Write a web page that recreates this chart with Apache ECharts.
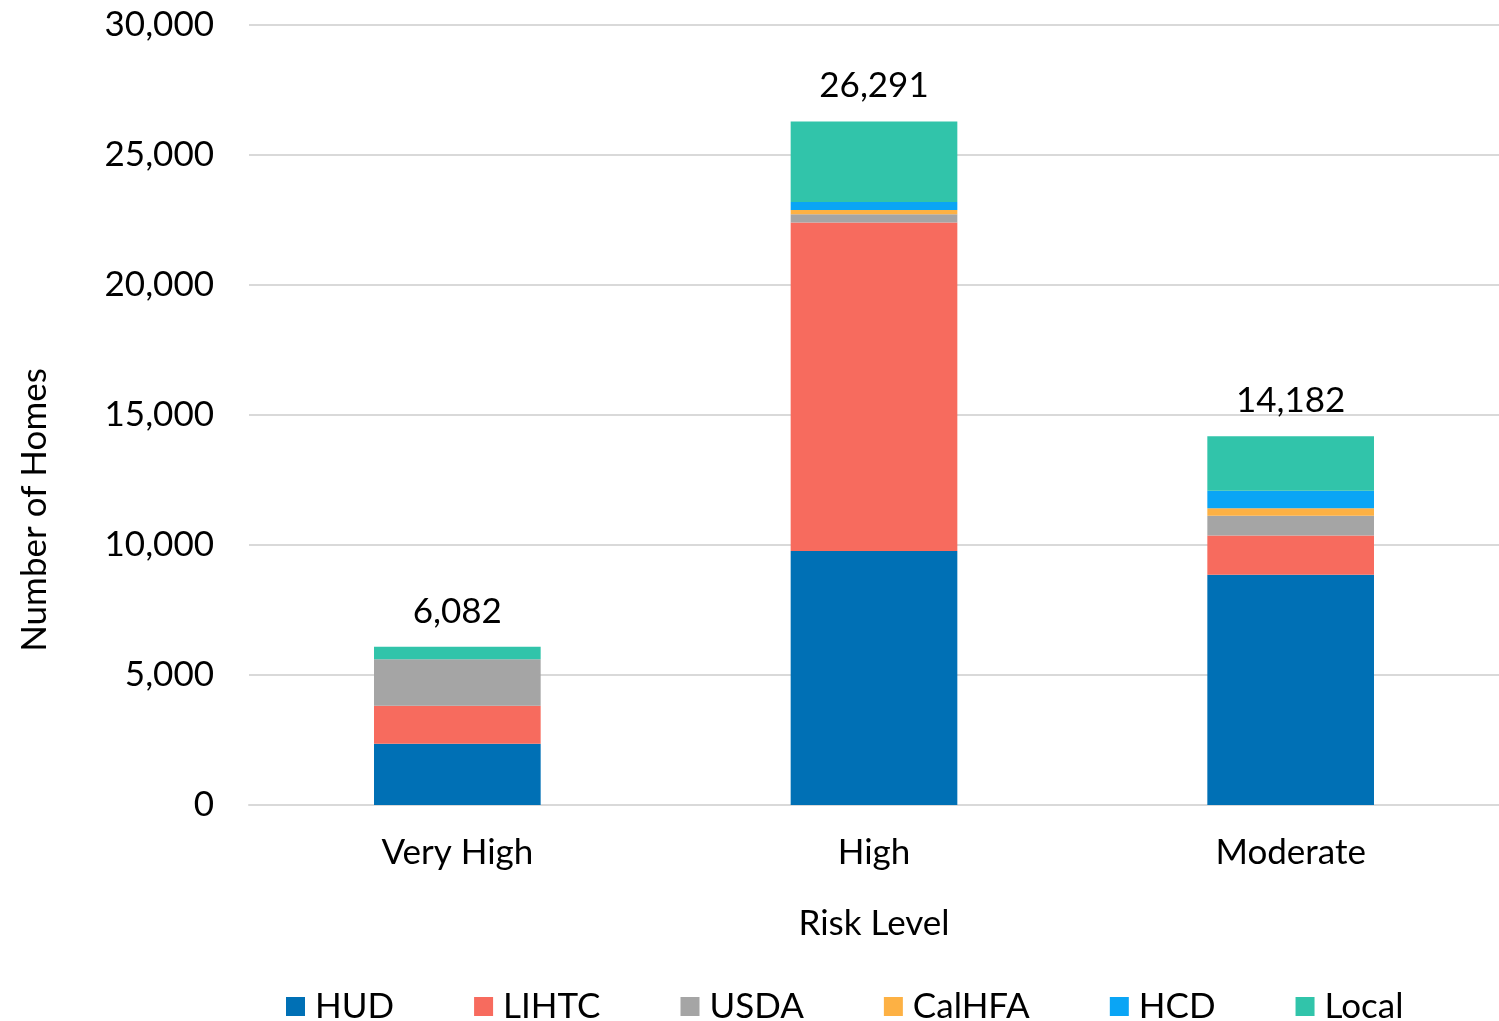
<!DOCTYPE html>
<html>
<head>
<meta charset="utf-8">
<script src="https://cdn.jsdelivr.net/npm/echarts@6/dist/echarts.min.js"></script>
<style>
html, body { margin: 0; padding: 0; background: #fff; }
#main { width: 1499px; height: 1021px; }
</style>
</head>
<body>
<div id="main"></div>
<script>
// 数据
var riskLevels = ['Very High', 'High', 'Moderate'];
var hud    = [2360, 9771, 8852];
var lihtc  = [1460, 12630, 1510];
var usda   = [1782, 320, 760];
var calhfa = [0, 160, 290];
var hcd    = [0, 310, 670];
var local  = [480, 3100, 2100];
var yTicks = [0, 5000, 10000, 15000, 20000, 25000, 30000];

var colors = ['#0070B5', '#F76B5E', '#A5A5A5', '#FDB144', '#0AA5F5', '#31C4AA'];
var seriesNames = ['HUD', 'LIHTC', 'USDA', 'CalHFA', 'HCD', 'Local'];
var seriesData = [hud, lihtc, usda, calhfa, hcd, local];

var totals = riskLevels.map(function (c, i) {
    var s = 0;
    seriesData.forEach(function (d) { s += d[i]; });
    return s;
});

var font = 'Lato, "Open Sans", sans-serif';
var fs = 35;
var chart = echarts.init(document.getElementById('main'));

var series = seriesNames.map(function (name, k) {
    var s = {
        name: name,
        type: 'bar',
        stack: 'total',
        barWidth: '40%',
        itemStyle: { color: colors[k] },
        data: seriesData[k]
    };
    // 最上面一段显示合计
    if (k === seriesNames.length - 1) {
        s.label = {
            show: true,
            position: 'top',
            distance: 18,
            color: '#000',
            fontFamily: font,
            fontSize: fs,
            formatter: function (p) {
                return totals[p.dataIndex].toLocaleString('en-US');
            }
        };
    }
    return s;
});

var option = {
    animation: false,
    color: colors,
    grid: { left: 249, right: 0, top: 25, bottom: 216 },
    legend: {
        top: 984,
        left: 281,
        itemWidth: 19,
        itemHeight: 19,
        itemGap: 80,
        icon: 'rect',
        textStyle: { color: '#000', fontFamily: font, fontSize: fs, padding: [0, 0, 0, 5] },
        data: seriesNames
    },
    // y轴名称
    graphic: [{
        type: 'text',
        rotation: Math.PI / 2,
        x: 35,
        y: 510,
        style: {
            text: 'Number of Homes',
            fill: '#000',
            font: fs + 'px ' + font,
            textAlign: 'center',
            textVerticalAlign: 'middle'
        }
    }],
    xAxis: {
        type: 'category',
        data: riskLevels,
        name: 'Risk Level',
        nameLocation: 'middle',
        nameGap: 101,
        nameTextStyle: { color: '#000', fontFamily: font, fontSize: fs },
        axisLine: { lineStyle: { color: '#d9d9d9', width: 2 } },
        axisTick: { show: false },
        axisLabel: { color: '#000', fontFamily: font, fontSize: fs, margin: 30 }
    },
    yAxis: {
        type: 'value',
        min: yTicks[0],
        max: yTicks[yTicks.length - 1],
        interval: 5000,
        axisLine: { show: false },
        axisTick: { show: false },
        splitLine: { lineStyle: { color: '#d9d9d9', width: 2 } },
        axisLabel: {
            color: '#000', fontFamily: font, fontSize: fs, margin: 35,
            formatter: function (v) { return v.toLocaleString('en-US'); }
        }
    },
    series: series
};

chart.setOption(option);
</script>
</body>
</html>
